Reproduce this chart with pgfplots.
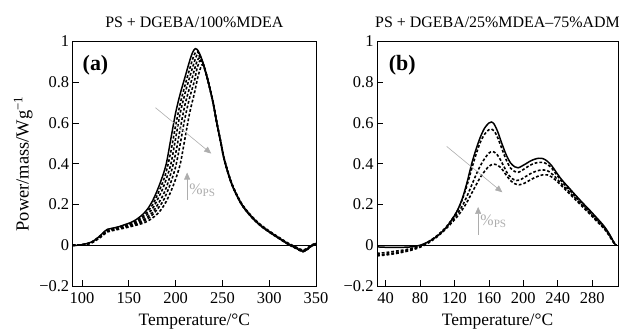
\documentclass[border=0pt]{standalone}
\usepackage{fontspec}
\setmainfont{Liberation Serif}
\usepackage{pgfplots}
\pgfplotsset{compat=1.18}
\usetikzlibrary{arrows.meta}
\definecolor{arrgray}{gray}{0.68}

\pgfplotsset{
  panel/.style={
    scale only axis, height=244.5bp,
    ymin=-0.2, ymax=1,
    ytick={-0.2,0,0.2,0.4,0.6,0.8,1},
    yticklabels={−0.2,0,0.2,0.4,0.6,0.8,1},
    tick pos=left, tick align=inside, major tick length=6bp,
    axis line style={line width=0.7pt},
    every tick/.style={line width=0.7pt, black},
    tick label style={font=\fontsize{16.5}{18}\selectfont},
    xticklabel style={yshift=-3bp},
    /pgf/number format/assume math mode=true,
    xlabel style={font=\fontsize{17.5}{20}\selectfont, yshift=-3bp},
    ylabel style={font=\fontsize{18.5}{21}\selectfont},
    title style={font=\fontsize{16}{18}\selectfont, yshift=4bp},
    xlabel={Temperature/°C},
  },
  sol/.style={black, line width=1.5pt, smooth, no markers},
  dsh/.style={black, line width=1.6pt, smooth, no markers, dash pattern=on 2.8pt off 2pt},
  zero/.style={black, line width=1.1pt, no markers},
}
\tikzset{
  arr/.style={arrgray, line width=0.6pt, -{Triangle[length=7bp,width=6bp]}},
  tag/.style={font=\bfseries\fontsize{22}{24}\selectfont, anchor=west, inner sep=0pt},
  ps/.style={arrgray, anchor=west, inner sep=0pt, font=\fontsize{16}{18}\selectfont},
}

\begin{document}
\begin{tikzpicture}
\path[use as bounding box] (0,0) rectangle (619bp,331bp);

% ---------------- panel (a) ----------------
\begin{axis}[panel, at={(72.7bp,45bp)}, anchor=south west, width=243.3bp,
  xmin=90, xmax=350, xtick={100,150,200,250,300,350},
  ylabel={Power/mass/Wg\textsuperscript{−1}},
  title={PS + DGEBA/100\%MDEA}]
\addplot[zero] coordinates {(90,0) (350,0)};
% solid
\addplot[sol] coordinates {
(90,0.000) (95,0.000) (100,0.003) (105,0.008) (110,0.016) (115,0.030) (120,0.050)
(124,0.068) (127,0.078) (131,0.082) (135,0.086) (140,0.092) (145,0.100) (150,0.108)
(155,0.118) (160,0.133) (165,0.152) (170,0.178) (175,0.215) (180,0.265) (185,0.325)
(190,0.400) (195,0.525) (200,0.650) (205,0.745) (210,0.825) (215,0.905) (218,0.945)
(221,0.965) (224,0.955) (227,0.925) (230,0.885) (235,0.800) (240,0.700) (244,0.600)
(248,0.510) (252,0.420) (256,0.355) (260,0.300) (265,0.248) (270,0.205) (275,0.172)
(280,0.145) (285,0.120) (290,0.100) (295,0.082) (300,0.066) (305,0.051) (310,0.036)
(315,0.021) (320,0.007) (325,-0.005) (330,-0.017) (336,-0.030) (341,-0.018) (345,-0.003) (350,0.008)};
% dashed 1
\addplot[dsh] coordinates {
(90,0.000) (100,0.003) (110,0.015) (120,0.048) (127,0.076) (135,0.084) (145,0.097)
(155,0.113) (165,0.142) (175,0.196) (185,0.295) (190,0.362) (195,0.462) (200,0.588)
(205,0.697) (210,0.785) (215,0.865) (219,0.925) (222,0.950) (225,0.940) (229,0.895)
(232,0.850) (235,0.800) (240,0.702) (244,0.602) (248,0.512) (252,0.422) (260,0.302)
(270,0.207) (280,0.147) (290,0.103) (300,0.068) (310,0.038) (320,0.009) (330,-0.014)
(336,-0.026) (341,-0.015) (345,-0.001) (350,0.008)};
% dashed 2
\addplot[dsh] coordinates {
(90,0.000) (100,0.002) (110,0.014) (120,0.046) (127,0.074) (135,0.082) (145,0.094)
(155,0.108) (165,0.133) (175,0.178) (185,0.265) (190,0.325) (195,0.400) (200,0.525)
(205,0.650) (210,0.745) (215,0.825) (220,0.900) (223,0.935) (226,0.925) (229,0.895)
(232,0.850) (235,0.798) (240,0.698) (244,0.598) (248,0.508) (252,0.418) (260,0.298)
(270,0.203) (280,0.143) (290,0.098) (300,0.064) (310,0.034) (320,0.005) (330,-0.019)
(336,-0.032) (341,-0.020) (345,-0.005) (350,0.006)};
% dashed 3
\addplot[dsh] coordinates {
(90,0.000) (100,0.002) (110,0.013) (120,0.044) (127,0.071) (135,0.080) (145,0.091)
(155,0.104) (165,0.123) (175,0.160) (185,0.232) (190,0.283) (195,0.355) (200,0.450)
(205,0.575) (210,0.690) (215,0.775) (220,0.860) (223,0.905) (225.5,0.920) (228,0.905)
(232,0.850) (235,0.800) (240,0.704) (244,0.604) (248,0.514) (252,0.424) (260,0.304)
(270,0.209) (280,0.149) (290,0.104) (300,0.070) (310,0.040) (320,0.011) (330,-0.012)
(336,-0.024) (341,-0.013) (345,0.001) (350,0.010)};
% dashed 4
\addplot[dsh] coordinates {
(90,0.000) (100,0.002) (110,0.012) (120,0.042) (127,0.068) (135,0.077) (145,0.088)
(155,0.100) (165,0.116) (175,0.148) (185,0.205) (190,0.250) (195,0.310) (200,0.385)
(205,0.500) (210,0.625) (215,0.725) (220,0.805) (223,0.870) (226,0.905) (229,0.895)
(232,0.850) (235,0.798) (240,0.699) (244,0.599) (248,0.509) (252,0.419) (260,0.299)
(270,0.204) (280,0.144) (290,0.099) (300,0.065) (310,0.035) (320,0.006) (330,-0.018)
(336,-0.031) (341,-0.019) (345,-0.004) (350,0.007)};
% dashed 5
\addplot[dsh] coordinates {
(90,0.000) (100,0.002) (110,0.011) (120,0.040) (127,0.065) (135,0.074) (145,0.084)
(155,0.095) (165,0.108) (170,0.118) (175,0.133) (180,0.152) (185,0.178) (190,0.215)
(195,0.265) (200,0.325) (205,0.400) (210,0.525) (215,0.650) (220,0.745) (224,0.830)
(228,0.885) (231,0.870) (235,0.801) (240,0.701) (244,0.601) (248,0.511) (252,0.421)
(260,0.301) (270,0.206) (280,0.146) (290,0.101) (300,0.067) (310,0.037) (320,0.008)
(330,-0.016) (336,-0.029) (341,-0.017) (345,-0.002) (350,0.009)};
\node[tag] at (axis cs:100.5,0.885) {(a)};
\draw[arr] (axis cs:178.5,0.675) -- (axis cs:238,0.45);
\draw[arr] (axis cs:212.3,0.223) -- (axis cs:212.3,0.357);
\node[ps] at (axis cs:214.5,0.27) {\%\textsubscript{PS}};
\end{axis}

% ---------------- panel (b) ----------------
\begin{axis}[panel, at={(377bp,45bp)}, anchor=south west, width=241bp,
  xmin=30, xmax=310, xtick={40,80,120,160,200,240,280},
  title={PS + DGEBA/25\%MDEA–75\%ADM}]
\addplot[zero] coordinates {(30,0) (310,0)};
% solid
\addplot[sol] coordinates {
(30,-0.008) (40,-0.010) (50,-0.010) (60,-0.010) (70,-0.008) (80,0.000) (90,0.018)
(100,0.045) (110,0.085) (120,0.145) (125,0.185) (130,0.240) (135,0.315) (140,0.400)
(145,0.470) (150,0.530) (155,0.575) (160,0.600) (163,0.605) (166,0.595) (170,0.560)
(175,0.500) (180,0.445) (185,0.405) (190,0.385) (194,0.380) (198,0.388) (203,0.400)
(208,0.413) (213,0.422) (218,0.427) (223,0.425) (228,0.412) (233,0.390) (238,0.360)
(243,0.330) (248,0.305) (253,0.282) (258,0.258) (263,0.235) (268,0.212) (273,0.190)
(278,0.168) (283,0.145) (288,0.122) (293,0.098) (297,0.075) (300,0.055) (303,0.032)
(306,0.008) (308,0.000)};
% dashed 1
\addplot[dsh] coordinates {
(30,-0.040) (40,-0.036) (50,-0.030) (60,-0.024) (70,-0.016) (80,-0.004) (90,0.018)
(100,0.048) (110,0.088) (120,0.145) (125,0.183) (130,0.235) (135,0.300) (140,0.375)
(145,0.445) (150,0.505) (155,0.545) (160,0.567) (163,0.570) (166,0.562) (170,0.530)
(175,0.475) (180,0.420) (185,0.380) (190,0.362) (194,0.358) (198,0.366) (203,0.380)
(208,0.393) (213,0.402) (218,0.407) (223,0.407) (228,0.397) (233,0.378) (238,0.350)
(243,0.322) (248,0.297) (253,0.274) (258,0.250) (263,0.227) (268,0.204) (273,0.182)
(278,0.160) (283,0.137) (288,0.115) (293,0.092) (297,0.070) (300,0.050) (303,0.030)
(306,0.010) (308,0.000)};
% dashed 2
\addplot[dsh] coordinates {
(30,-0.048) (40,-0.044) (50,-0.038) (60,-0.030) (70,-0.020) (80,-0.006) (90,0.016)
(100,0.046) (110,0.085) (120,0.135) (125,0.165) (130,0.200) (135,0.245) (140,0.295)
(145,0.345) (150,0.390) (155,0.425) (160,0.452) (164,0.460) (168,0.452) (172,0.430)
(177,0.390) (182,0.350) (187,0.327) (192,0.318) (196,0.320) (200,0.330) (205,0.343)
(210,0.355) (216,0.365) (222,0.370) (227,0.368) (232,0.355) (237,0.335) (242,0.312)
(247,0.290) (252,0.268) (257,0.246) (262,0.224) (267,0.203) (272,0.182) (277,0.160)
(282,0.138) (287,0.116) (292,0.094) (296,0.072) (300,0.048) (303,0.028) (306,0.008)
(308,0.000)};
% dashed 3
\addplot[dsh] coordinates {
(30,-0.052) (40,-0.048) (50,-0.042) (60,-0.034) (70,-0.024) (80,-0.010) (90,0.012)
(100,0.042) (110,0.080) (120,0.125) (125,0.150) (130,0.180) (135,0.215) (140,0.255)
(145,0.295) (150,0.333) (155,0.363) (160,0.387) (165,0.398) (170,0.393) (175,0.375)
(180,0.345) (185,0.318) (190,0.302) (195,0.297) (200,0.302) (205,0.313) (210,0.325)
(216,0.337) (222,0.345) (228,0.345) (233,0.335) (238,0.318) (243,0.298) (248,0.277)
(253,0.256) (258,0.234) (263,0.213) (268,0.192) (273,0.171) (278,0.150) (283,0.128)
(288,0.107) (293,0.085) (297,0.065) (300,0.045) (303,0.025) (306,0.006) (308,0.000)};
\node[tag] at (axis cs:43.5,0.885) {(b)};
\draw[arr] (axis cs:111,0.485) -- (axis cs:175.6,0.26);
\draw[arr] (axis cs:147.5,0.052) -- (axis cs:147.5,0.188);
\node[ps] at (axis cs:150,0.118) {\%\textsubscript{PS}};
\end{axis}
\end{tikzpicture}
\end{document}
